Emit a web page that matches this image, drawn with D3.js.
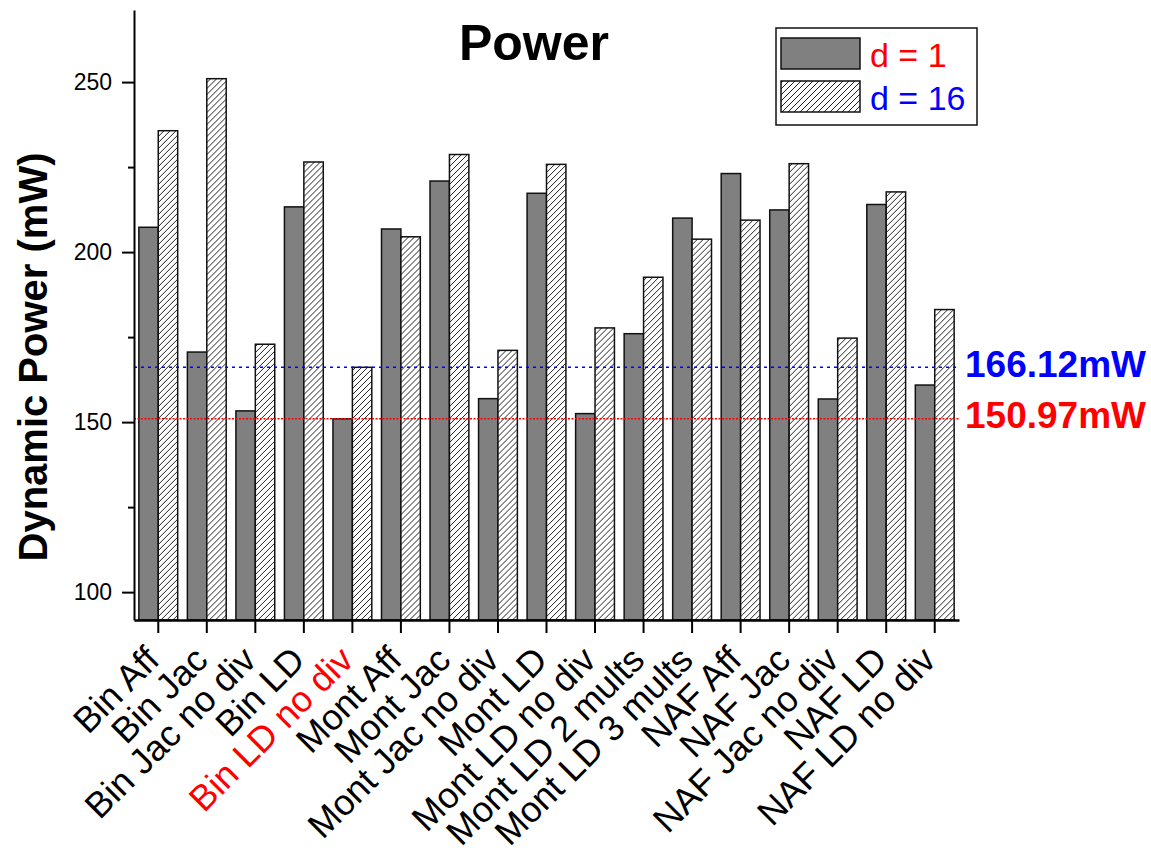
<!DOCTYPE html>
<html>
<head>
<meta charset="utf-8">
<script src="https://cdn.jsdelivr.net/npm/d3@7"></script>
<style>
body { margin: 0; background: #fff; }
svg { display: block; font-family: "Liberation Sans", Arial, sans-serif; }
</style>
</head>
<body>
<div class="chart"></div>
<script>

const categories = ['Bin Aff', 'Bin Jac', 'Bin Jac no div', 'Bin LD', 'Bin LD no div', 'Mont Aff', 'Mont Jac',
	'Mont Jac no div', 'Mont LD', 'Mont LD no div', 'Mont LD 2 mults', 'Mont LD 3 mults', 'NAF Aff', 'NAF Jac',
	'NAF Jac no div', 'NAF LD', 'NAF LD no div'];

const d1Values = [207.3, 170.6, 153.3, 213.3, 150.97, 206.8, 220.9, 156.9, 217.3, 152.5, 176.0, 210.0, 223.1, 212.4, 156.8, 214.0, 160.9];
const d16Values = [235.7, 251.0, 172.9, 226.5, 166.12, 204.5, 228.7, 171.1, 225.8, 177.7, 192.6, 203.8, 209.4, 226.0, 174.7, 217.7, 183.1];

const seriesNames = ['d = 1', 'd = 16'];
const yTicks = [100, 150, 200, 250];
const yMinorTicks = [125, 175, 225];
const refValues = [166.12, 150.97];
const refLabels = ['166.12mW', '150.97mW'];
const highlighted = 'Bin LD no div';

const width = 1151;
const height = 856;

const svg = d3.select('.chart')
.append('svg')
.attr('width', width)
.attr('height', height)

const defs = svg.append('defs');

const hatch = defs.append('pattern')
.attr('id', 'hatch')
.attr('patternUnits', 'userSpaceOnUse')
.attr('width', 6)
.attr('height', 6)

hatch.append('rect')
.attr('width', 6)
.attr('height', 6)
.attr('fill', '#fff')

hatch.append('path')
.attr('d', 'M0,6 L6,0 M-1.5,1.5 L1.5,-1.5 M4.5,7.5 L7.5,4.5')
.attr('stroke', '#222')
.attr('stroke-width', 1)

const seriesFill = ['#808080', 'url(#hatch)'];
const seriesTextColor = ['#ff0000', '#0000ff'];
const refColors = ['#0000ff', '#ff0000'];
const refDash = ['3,4', '2,1.5'];

const x = d3.scaleBand()
.domain(categories)
.range([134, 959])
.paddingInner(0.2)
.paddingOuter(0.1)

const xSub = d3.scaleBand()
.domain([0, 1])
.range([0, x.bandwidth()])

const y = d3.scaleLinear()
.domain([91.8, 271.2])
.range([620, 10])

const rows = categories.map((c, i) => ({name: c, values: [d1Values[i], d16Values[i]]}));

// bars
const groups = svg.append('g')
.selectAll('g')
.data(rows)
.enter()
.append('g')
.attr('transform', d => 'translate(' + x(d.name) + ',0)')

groups.selectAll('rect')
.data(d => d.values.map((v, k) => ({k: k, v: v})))
.enter()
.append('rect')
.attr('x', d => xSub(d.k))
.attr('width', xSub.bandwidth())
.attr('y', d => y(d.v))
.attr('height', d => y.range()[0] - y(d.v))
.attr('fill', d => seriesFill[d.k])
.attr('stroke', '#111')
.attr('stroke-width', 1.5)

// reference lines
const refs = svg.append('g');

refValues.forEach((v, i) => {
	refs.append('line')
	.attr('x1', x.range()[0])
	.attr('x2', x.range()[1])
	.attr('y1', y(v))
	.attr('y2', y(v))
	.attr('stroke', refColors[i])
	.attr('stroke-width', 1.4)
	.attr('stroke-dasharray', refDash[i])

	refs.append('text')
	.attr('x', 965)
	.attr('y', y(v) + 9.5)
	.attr('fill', refColors[i])
	.style('font-size', '37px')
	.style('font-weight', 'bold')
	.text(refLabels[i])
})

// axes
const yAxis = svg.append('g')
.attr('transform', 'translate(134,0)')
.call(d3.axisLeft(y).tickValues(yTicks).tickSize(12).tickSizeOuter(0).tickPadding(10))

yAxis.select('.domain').attr('stroke-width', 2)
yAxis.selectAll('.tick line').attr('stroke-width', 2)
yAxis.selectAll('.tick text')
.style('font-size', '23px')
.style('font-family', '"Liberation Sans", Arial, sans-serif')
.attr('fill', '#000')

const yMinor = svg.append('g')
.attr('transform', 'translate(134,0)')
.call(d3.axisLeft(y).tickValues(yMinorTicks).tickSize(6).tickSizeOuter(0).tickFormat(''))

yMinor.select('.domain').remove()
yMinor.selectAll('.tick line').attr('stroke-width', 2)

const xAxis = svg.append('g')
.attr('transform', 'translate(0,620)')
.call(d3.axisBottom(x).tickSize(13).tickSizeOuter(0))

xAxis.select('.domain').attr('stroke-width', 2.5)
xAxis.selectAll('.tick line').attr('stroke-width', 2)
xAxis.selectAll('.tick text')
.attr('y', 0)
.attr('dy', 0)
.attr('transform', 'translate(3,42) rotate(-45)')
.attr('text-anchor', 'end')
.style('font-size', '36px')
.style('font-family', '"Liberation Sans", Arial, sans-serif')
.attr('fill', d => d == highlighted ? '#ff0000' : '#000')

// titles
svg.append('text')
.attr('x', 534)
.attr('y', 60)
.attr('text-anchor', 'middle')
.style('font-size', '50px')
.style('font-weight', 'bold')
.text('Power')

svg.append('text')
.attr('transform', 'translate(47,357) rotate(-90)')
.attr('text-anchor', 'middle')
.style('font-size', '40px')
.style('font-weight', 'bold')
.text('Dynamic Power (mW)')

// legend
const legend = svg.append('g').attr('transform', 'translate(776,28)');

legend.append('rect')
.attr('width', 201)
.attr('height', 97)
.attr('fill', '#fff')
.attr('stroke', '#111')
.attr('stroke-width', 1.5)

seriesNames.forEach((s, i) => {
	legend.append('rect')
	.attr('x', 5)
	.attr('y', 10 + i * 43)
	.attr('width', 79)
	.attr('height', 31)
	.attr('fill', seriesFill[i])
	.attr('stroke', '#111')
	.attr('stroke-width', 1.5)

	legend.append('text')
	.attr('x', 94)
	.attr('y', 38.5 + i * 43)
	.attr('fill', seriesTextColor[i])
	.style('font-size', '34px')
	.text(s)
})

</script>
</body>
</html>
